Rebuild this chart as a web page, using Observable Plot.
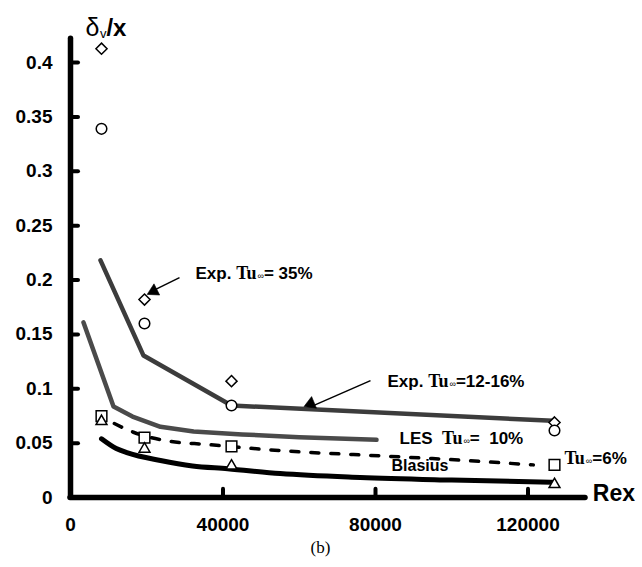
<!DOCTYPE html>
<html>
<head>
<meta charset="utf-8">
<script src="https://cdn.jsdelivr.net/npm/d3@7"></script>
<script src="https://cdn.jsdelivr.net/npm/@observablehq/plot@0.6"></script>
<style>
  html, body { margin: 0; padding: 0; background: #fff; }
  svg { display: block; }
</style>
</head>
<body>
<div id="chart"></div>
<script>
// ---- data ----
const xTicks = [0, 40000, 80000, 120000];
const yTicks = [0, 0.05, 0.1, 0.15, 0.2, 0.25, 0.3, 0.35, 0.4];

// experimental stations (Re_x)
const stationRe = [8131, 19410, 42230, 126950];
const expTu35 = [0.4127, 0.182, 0.107, 0.069];        // diamonds
const expTu1216 = [0.339, 0.160, 0.0846, 0.0616];     // circles
const expTu6 = [0.0749, 0.055, 0.047, 0.030];         // squares
const expLowTu = [0.070, 0.0446, 0.029, 0.012];       // triangles

// Exp. fit line (Tu = 12-16%)
const expLineRe = [7870, 19150, 42230, 126500];
const expLineV = [0.218, 0.1305, 0.0846, 0.0705];

// LES Tu = 10%
const lesRe = [3410, 11280, 16260, 23600, 32300, 45000, 60000, 80260];
const lesV = [0.161, 0.0836, 0.0744, 0.065, 0.0606, 0.058, 0.0555, 0.053];

// Tu = 6% dashed
const tu6Re = [11500, 16500, 25400, 36000, 48000, 62950, 74200, 94950, 121400];
const tu6V = [0.068, 0.060, 0.052, 0.0487, 0.045, 0.0414, 0.0395, 0.0358, 0.030];

// Blasius
const blaRe = [8130, 12000, 15000, 23600, 32000, 41200, 55000, 76000, 100000, 126400];
const blaV = [0.054, 0.045, 0.041, 0.034, 0.029, 0.0265, 0.022, 0.0184, 0.016, 0.014];

const toRows = (xs, ys) => xs.map((x, i) => ({x, y: ys[i]}));

const SANS = "'Liberation Sans', Arial, Helvetica, sans-serif";
const SERIF = "'Liberation Serif', 'Times New Roman', serif";

const markerStyle = {fill: "white", stroke: "black", strokeWidth: 1.5};

const svg = Plot.plot({
  width: 642,
  height: 567,
  marginLeft: 70,
  marginRight: 57,
  marginTop: 38,
  marginBottom: 70,
  style: {fontFamily: SANS, background: "white", overflow: "visible"},
  x: {domain: [0, 120000], range: [70, 527.5]},
  y: {domain: [0, 0.4], range: [497, 62]},
  marks: [
    // axes text
    Plot.axisY({ticks: yTicks, tickFormat: d => String(d), tickSize: 0, tickPadding: 18,
      fontSize: 19, fontWeight: "bold", fill: "black", label: null}),
    Plot.axisX({ticks: xTicks, tickFormat: d => String(d), tickSize: 0, tickPadding: 20,
      fontSize: 19, fontWeight: "bold", fill: "black", label: null}),
    // tick stubs
    Plot.ruleY(yTicks.filter(d => d > 0), {x1: 0, x2: 2100, stroke: "black", strokeWidth: 4, strokeLinecap: "round"}),
    Plot.ruleX(xTicks.filter(d => d > 0), {y1: 0, y2: 0.0075, stroke: "black", strokeWidth: 4, strokeLinecap: "round"}),
    // axis lines
    Plot.ruleX([0], {y1: 0, y2: 0.4219, stroke: "black", strokeWidth: 5.5, strokeLinecap: "round"}),
    Plot.ruleY([0], {x1: 0, x2: 135080, stroke: "black", strokeWidth: 5.5, strokeLinecap: "round"}),

    // lines
    Plot.line(toRows(expLineRe, expLineV), {x: "x", y: "y", stroke: "#3c3c3c", strokeWidth: 4.5, curve: "linear"}),
    Plot.line(toRows(lesRe, lesV), {x: "x", y: "y", stroke: "#4a4a4a", strokeWidth: 4.5, curve: "linear"}),
    Plot.line(toRows(tu6Re, tu6V), {x: "x", y: "y", stroke: "black", strokeWidth: 3.5, strokeDasharray: "8,12", curve: "monotone-x"}),
    Plot.line(toRows(blaRe, blaV), {x: "x", y: "y", stroke: "black", strokeWidth: 5, curve: "monotone-x"}),

    // markers
    Plot.dot(toRows(stationRe, expTu35), {x: "x", y: "y", symbol: "diamond2", r: 5, ...markerStyle}),
    Plot.dot(toRows(stationRe, expTu1216), {x: "x", y: "y", symbol: "circle", r: 5.3, ...markerStyle}),
    Plot.dot(toRows(stationRe, expTu6), {x: "x", y: "y", symbol: "square2", r: 6.8, ...markerStyle}),
    Plot.dot(toRows(stationRe, expLowTu), {x: "x", y: "y", symbol: "triangle2", r: 5.2, ...markerStyle}),

    // arrows
    Plot.link([0], {x1: 28590, y1: 0.2022, x2: 21800, y2: 0.1905, stroke: "black", strokeWidth: 1.5}),
    Plot.dot([0], {x: 21800, y: 0.1898, symbol: "triangle2", r: 6, fill: "black", stroke: "black", strokeWidth: 0.5, rotate: -117}),
    Plot.link([0], {x1: 78690, y1: 0.1075, x2: 64000, y2: 0.0850, stroke: "black", strokeWidth: 1.5}),
    Plot.dot([0], {x: 63000, y: 0.0862, symbol: "triangle2", r: 6, fill: "black", stroke: "black", strokeWidth: 0.5, rotate: -112.6}),

    // annotations
    Plot.text(["Exp. Tu∞= 35%"], {x: 32790, y: 0.2063, text: d => d, textAnchor: "start", fontSize: 17, fontWeight: "bold", fill: "black"}),
    Plot.text(["Exp. Tu∞=12-16%"], {x: 83150, y: 0.1066, text: d => d, textAnchor: "start", fontSize: 17, fontWeight: "bold", fill: "black"}),
    Plot.text(["LES  Tu∞=  10%"], {x: 86300, y: 0.0542, text: d => d, textAnchor: "start", fontSize: 17, fontWeight: "bold", fill: "black"}),
    Plot.text(["Blasius"], {x: 84200, y: 0.0294, text: d => d, textAnchor: "start", fontSize: 16, fontWeight: "bold", fill: "black"}),
    Plot.text(["Tu∞=6%"], {x: 129570, y: 0.0358, text: d => d, textAnchor: "start", fontSize: 17, fontWeight: "bold", fill: "black"}),
    Plot.text(["Rex"], {x: 137000, y: 0.0037, text: d => d, textAnchor: "start", fontSize: 23, fontWeight: "bold", fill: "black"}),
    Plot.text(["δv/x"], {x: 3934, y: 0.4246, text: d => d, textAnchor: "start", lineAnchor: "bottom", fontSize: 24, fontWeight: "bold", fill: "black"}),
    Plot.text(["(b)"], {x: 65570, y: -0.046, text: d => d, textAnchor: "middle", fontSize: 17, fontFamily: SERIF, fill: "black"})
  ]
});

// rich text: serif "Tu", small ∞ subscript, subscript v
d3.select(svg).selectAll("text").each(function () {
  const el = d3.select(this);
  const t = this.textContent;
  if (t.includes("Tu∞")) {
    const [pre, post] = t.split("Tu∞");
    el.text(null);
    if (pre) el.append("tspan").style("white-space", "pre").text(pre);
    el.append("tspan").attr("font-family", SERIF).attr("font-size", 18).attr("font-weight", "bold").text("Tu");
    el.append("tspan").attr("font-size", 9).attr("font-weight", "normal").attr("dx", 1).text("∞");
    el.append("tspan").style("white-space", "pre").text(post);
  } else if (t === "δv/x") {
    el.text(null);
    el.append("tspan").attr("font-weight", "normal").attr("font-size", 25).text("δ");
    el.append("tspan").attr("font-weight", "normal").attr("font-size", 13).attr("dx", 0.5).attr("dy", 2).text("v");
    el.append("tspan").attr("dy", -2).text("/x");
  }
});

document.getElementById("chart").appendChild(svg);
</script>
</body>
</html>
